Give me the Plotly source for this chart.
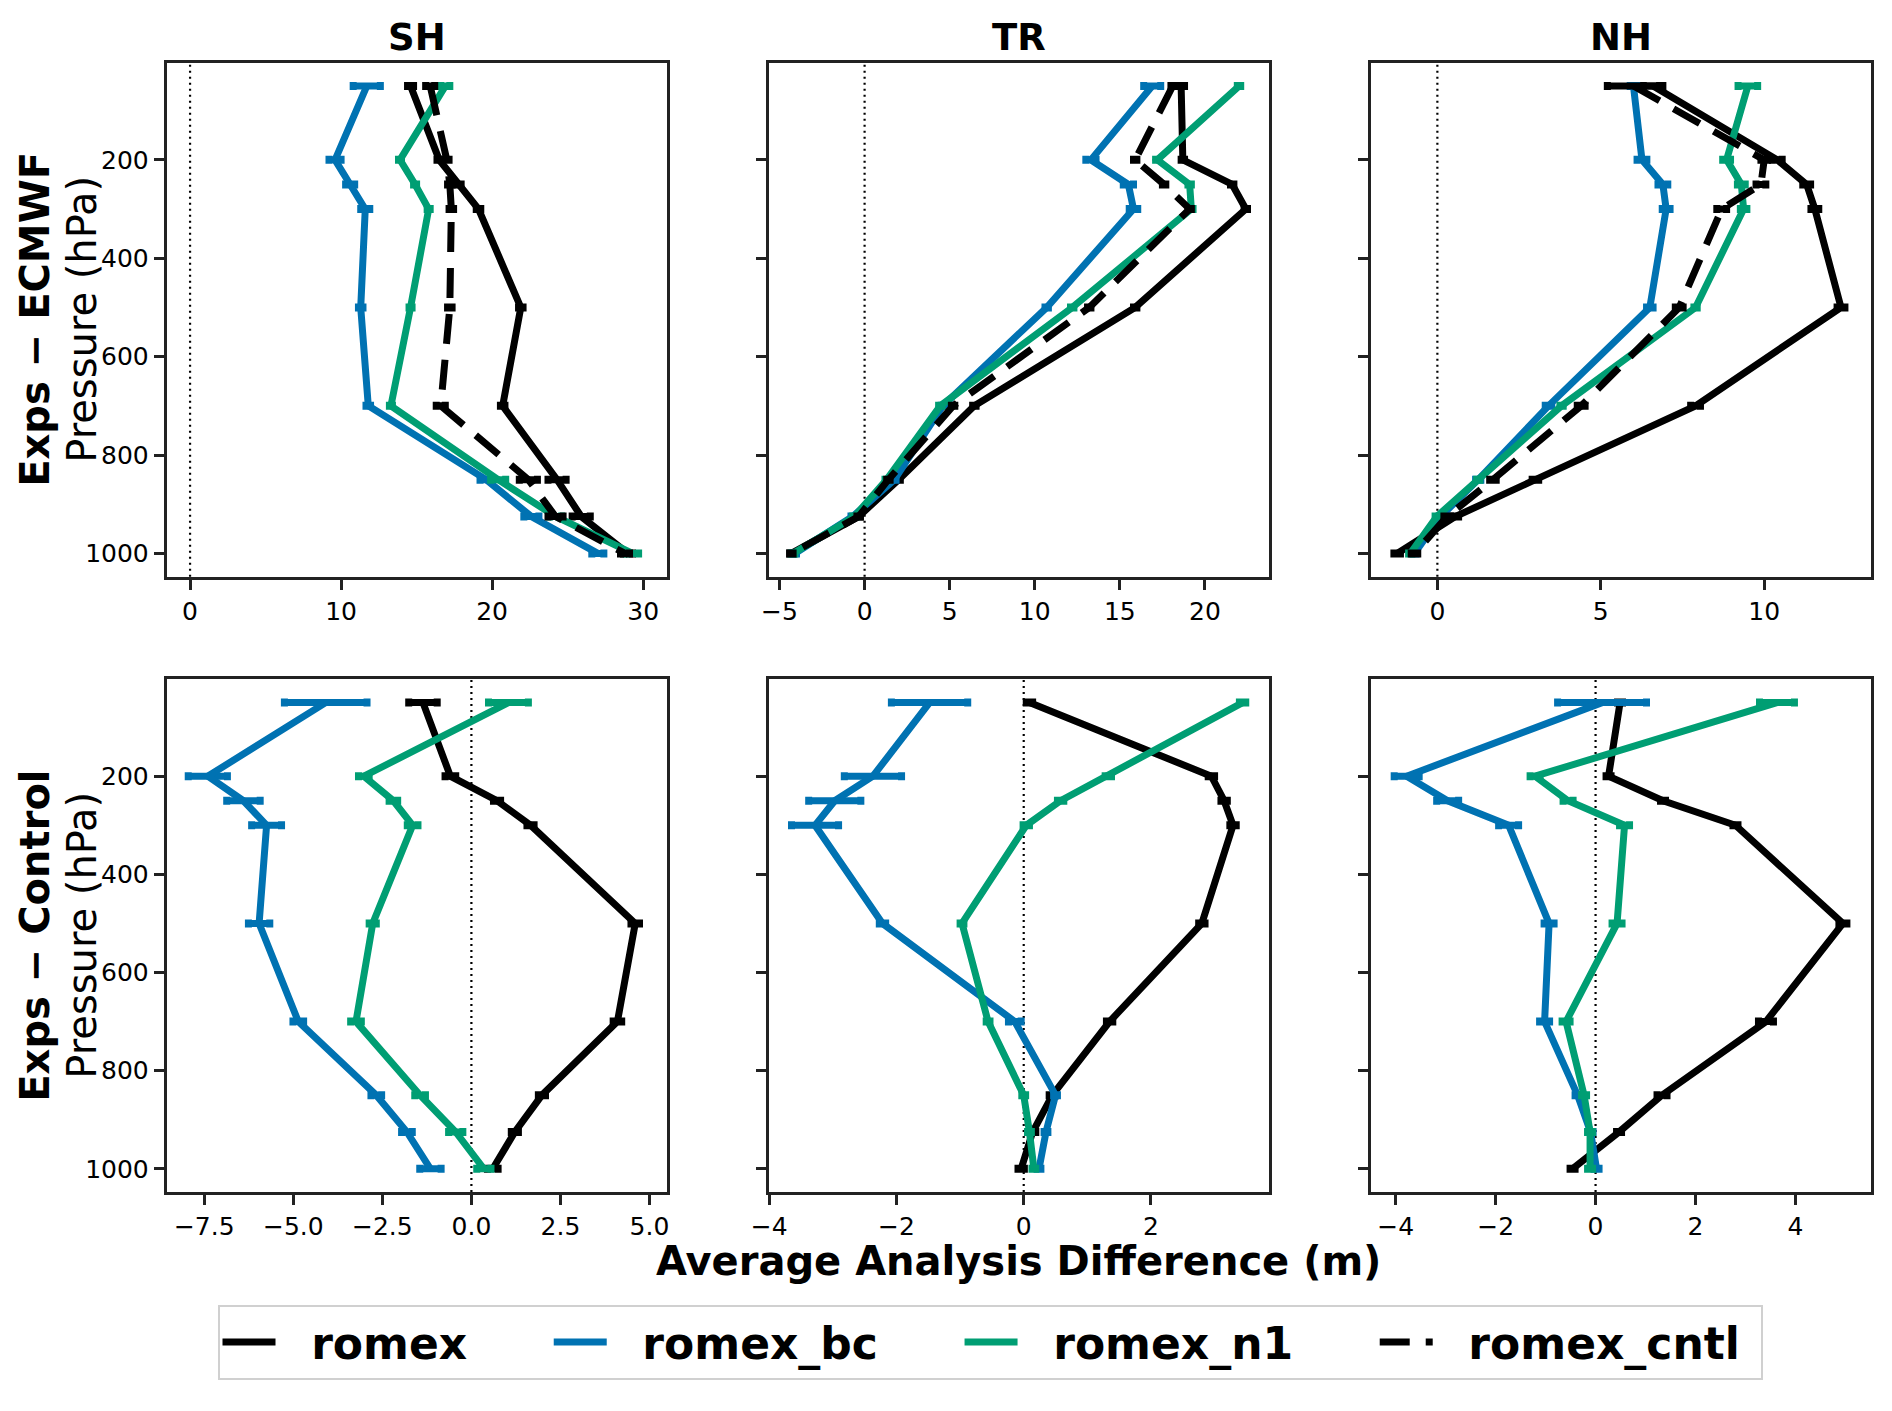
import plotly.graph_objects as go

# pressure levels (hPa) shared by every profile
levels = [50, 200, 250, 300, 500, 700, 850, 925, 1000]
regions = ["SH", "TR", "NH"]
row_labels = ["Exps − ECMWF", "Exps − Control"]
series = ["romex", "romex_bc", "romex_n1", "romex_cntl"]

# ---- Exps - ECMWF ----
ecmwf_sh_romex = [14.6, 16.5, 17.8, 19.1, 21.9, 20.7, 24.3, 25.9, 29.0]
ecmwf_sh_romex_err = [0.2, 0.15, 0.15, 0.15, 0.15, 0.15, 0.6, 0.6, 0.3]
ecmwf_sh_bc = [11.7, 9.6, 10.6, 11.6, 11.3, 11.8, 19.6, 22.6, 27.0]
ecmwf_sh_bc_err = [0.9, 0.4, 0.3, 0.3, 0.15, 0.15, 0.4, 0.5, 0.4]
ecmwf_sh_n1 = [16.9, 13.9, 14.9, 15.8, 14.6, 13.3, 20.4, 24.2, 29.3]
ecmwf_sh_n1_err = [0.3, 0.1, 0.1, 0.1, 0.1, 0.1, 0.5, 0.4, 0.4]
ecmwf_sh_cntl = [15.9, 17.0, 17.2, 17.3, 17.2, 16.6, 22.4, 24.2, 28.8]
ecmwf_sh_cntl_err = [0.3, 0.15, 0.15, 0.15, 0.15, 0.3, 0.6, 0.5, 0.3]

ecmwf_tr_romex = [18.6, 18.7, 21.6, 22.4, 15.9, 6.45, 2.0, -0.35, -4.3]
ecmwf_tr_romex_err = [0.2, 0.1, 0.1, 0.1, 0.1, 0.1, 0.1, 0.1, 0.1]
ecmwf_tr_bc = [16.9, 13.3, 15.5, 15.8, 10.7, 4.6, 1.75, -0.7, -4.1]
ecmwf_tr_bc_err = [0.5, 0.3, 0.3, 0.25, 0.1, 0.1, 0.1, 0.1, 0.1]
ecmwf_tr_n1 = [22.0, 17.2, 19.1, 19.2, 12.2, 4.45, 1.3, -0.6, -4.2]
ecmwf_tr_n1_err = [0.1, 0.1, 0.1, 0.1, 0.1, 0.1, 0.1, 0.1, 0.1]
ecmwf_tr_cntl = [18.1, 15.9, 17.6, 19.1, 13.2, 5.2, 1.4, -0.35, -4.3]
ecmwf_tr_cntl_err = [0.1, 0.1, 0.1, 0.1, 0.1, 0.1, 0.1, 0.1, 0.1]

ecmwf_nh_romex = [6.6, 10.4, 11.3, 11.55, 12.35, 7.9, 3.0, 0.55, -1.23]
ecmwf_nh_romex_err = [0.3, 0.15, 0.12, 0.12, 0.12, 0.15, 0.1, 0.1, 0.1]
ecmwf_nh_bc = [6.0, 6.26, 6.9, 7.0, 6.5, 3.4, 1.25, 0.1, -0.7]
ecmwf_nh_bc_err = [0.1, 0.15, 0.15, 0.12, 0.1, 0.1, 0.08, 0.05, 0.05]
ecmwf_nh_n1 = [9.5, 8.85, 9.3, 9.37, 7.9, 3.8, 1.25, -0.02, -0.83]
ecmwf_nh_n1_err = [0.3, 0.12, 0.12, 0.1, 0.05, 0.05, 0.05, 0.05, 0.05]
ecmwf_nh_cntl = [6.0, 10.0, 9.9, 8.7, 7.4, 4.4, 1.7, 0.3, -0.7]
ecmwf_nh_cntl_err = [0.8, 0.1, 0.15, 0.15, 0.12, 0.12, 0.1, 0.1, 0.1]

# ---- Exps - Control (no cntl profile) ----
cntl_sh_romex = [-1.36, -0.59, 0.72, 1.66, 4.6, 4.1, 1.98, 1.22, 0.6]
cntl_sh_romex_err = [0.4, 0.15, 0.1, 0.1, 0.12, 0.12, 0.1, 0.1, 0.15]
cntl_sh_bc = [-4.09, -7.4, -6.4, -5.75, -5.96, -4.86, -2.67, -1.81, -1.15]
cntl_sh_bc_err = [1.16, 0.55, 0.47, 0.42, 0.3, 0.15, 0.15, 0.15, 0.3]
cntl_sh_n1 = [1.04, -3.02, -2.19, -1.65, -2.77, -3.24, -1.44, -0.44, 0.35]
cntl_sh_n1_err = [0.56, 0.15, 0.12, 0.15, 0.1, 0.15, 0.15, 0.2, 0.2]

cntl_tr_romex = [0.09, 2.95, 3.15, 3.29, 2.8, 1.35, 0.45, 0.14, -0.04]
cntl_tr_romex_err = [0.05, 0.05, 0.05, 0.05, 0.05, 0.05, 0.05, 0.05, 0.05]
cntl_tr_bc = [-1.48, -2.37, -2.97, -3.28, -2.22, -0.14, 0.5, 0.35, 0.24]
cntl_tr_bc_err = [0.6, 0.45, 0.41, 0.37, 0.05, 0.1, 0.03, 0.03, 0.03]
cntl_tr_n1 = [3.44, 1.33, 0.58, 0.04, -0.97, -0.56, 0.0, 0.09, 0.16]
cntl_tr_n1_err = [0.05, 0.05, 0.05, 0.05, 0.03, 0.03, 0.03, 0.03, 0.03]

cntl_nh_romex = [0.49, 0.26, 1.35, 2.8, 4.95, 3.41, 1.33, 0.47, -0.46]
cntl_nh_romex_err = [0.05, 0.05, 0.05, 0.05, 0.08, 0.15, 0.1, 0.05, 0.05]
cntl_nh_bc = [0.13, -3.78, -2.96, -1.74, -0.93, -1.02, -0.36, -0.1, 0.02]
cntl_nh_bc_err = [0.89, 0.25, 0.22, 0.2, 0.1, 0.1, 0.05, 0.05, 0.05]
cntl_nh_n1 = [3.63, -1.21, -0.55, 0.58, 0.43, -0.59, -0.23, -0.11, -0.11]
cntl_nh_n1_err = [0.35, 0.1, 0.1, 0.1, 0.1, 0.08, 0.05, 0.05, 0.05]

panels = [
    [(ecmwf_sh_romex, ecmwf_sh_romex_err), (ecmwf_sh_bc, ecmwf_sh_bc_err),
     (ecmwf_sh_n1, ecmwf_sh_n1_err), (ecmwf_sh_cntl, ecmwf_sh_cntl_err)],
    [(ecmwf_tr_romex, ecmwf_tr_romex_err), (ecmwf_tr_bc, ecmwf_tr_bc_err),
     (ecmwf_tr_n1, ecmwf_tr_n1_err), (ecmwf_tr_cntl, ecmwf_tr_cntl_err)],
    [(ecmwf_nh_romex, ecmwf_nh_romex_err), (ecmwf_nh_bc, ecmwf_nh_bc_err),
     (ecmwf_nh_n1, ecmwf_nh_n1_err), (ecmwf_nh_cntl, ecmwf_nh_cntl_err)],
    [(cntl_sh_romex, cntl_sh_romex_err), (cntl_sh_bc, cntl_sh_bc_err),
     (cntl_sh_n1, cntl_sh_n1_err), None],
    [(cntl_tr_romex, cntl_tr_romex_err), (cntl_tr_bc, cntl_tr_bc_err),
     (cntl_tr_n1, cntl_tr_n1_err), None],
    [(cntl_nh_romex, cntl_nh_romex_err), (cntl_nh_bc, cntl_nh_bc_err),
     (cntl_nh_n1, cntl_nh_n1_err), None],
]

# axis limits as drawn in the original (matplotlib autoscale)
x_ranges = [(-1.56, 31.6), (-5.64, 23.78), (-2.04, 13.28),
            (-8.56, 5.5), (-4.01, 3.86), (-4.5, 5.52)]
x_ticks = [[0, 10, 20, 30], [-5, 0, 5, 10, 15, 20], [0, 5, 10],
           [-7.5, -5, -2.5, 0, 2.5, 5], [-4, -2, 0, 2], [-4, -2, 0, 2, 4]]
x_fmt = ["", "", "", ".1f", "", ""]

colors = {"romex": "black", "romex_bc": "#0072B2", "romex_n1": "#009E73", "romex_cntl": "black"}
dashes = {"romex": "solid", "romex_bc": "solid", "romex_n1": "solid", "romex_cntl": "30px,16px"}

W, H = 1892, 1411
OFF = 8  # page body margin of the browser
def px(x):
    return (x - OFF) / W
def py(y):
    return 1 - (y - OFF) / H

col_px = [(166.5, 667.3), (768.6, 1269.3), (1370.7, 1871.4)]
row_px = [(62.7, 576.8), (679.3, 1192.1)]

fig = go.Figure()
layout = {}
FONT = "DejaVu Sans"
NB = "\u00a0"

for k, panel in enumerate(panels):
    r, c = divmod(k, 3)
    xa = "x" if k == 0 else f"x{k+1}"
    ya = "y" if k == 0 else f"y{k+1}"
    for name, item in zip(series, panel):
        if item is None:
            continue
        vals, errs = item
        label = NB * 2 + name + (NB * 5 if name != "romex_cntl" else NB)
        fig.add_trace(go.Scatter(
            x=vals, y=levels, mode="lines", name=label,
            legendgroup=name, showlegend=(k == 0), xaxis=xa, yaxis=ya,
            line=dict(color=colors[name], width=7, dash=dashes[name]),
            error_x=dict(type="data", array=errs, color=colors[name],
                         thickness=7, width=4),
        ))
    axcommon = dict(showline=True, mirror=True, linecolor="#222", linewidth=2.5,
                    ticks="outside", ticklen=10, tickwidth=2.5, tickcolor="#222",
                    showgrid=False, zeroline=False, automargin=False,
                    tickfont=dict(family=FONT, size=25, color="black"))
    layout["xaxis" if k == 0 else f"xaxis{k+1}"] = dict(
        axcommon, domain=[px(col_px[c][0]), px(col_px[c][1])],
        anchor=ya, range=list(x_ranges[k]), tickmode="array",
        tickvals=x_ticks[k], tickformat=x_fmt[k])
    layout["yaxis" if k == 0 else f"yaxis{k+1}"] = dict(
        axcommon, domain=[py(row_px[r][1]), py(row_px[r][0])],
        anchor=xa, range=[1047.5, 2.5], tickmode="array",
        tickvals=[200, 400, 600, 800, 1000], showticklabels=(c == 0))
    fig.add_shape(type="line", xref=xa, yref=f"{ya} domain", x0=0, x1=0, y0=0, y1=1,
                  line=dict(color="black", width=2.2, dash="2px,4px"), layer="below")

annotations = []
for c, reg in enumerate(regions):
    annotations.append(dict(text=f"<b>{reg}</b>", x=px((col_px[c][0] + col_px[c][1]) / 2),
                            y=py(37), xref="paper", yref="paper", showarrow=False,
                            font=dict(family=FONT, size=37, color="black"),
                            xanchor="center", yanchor="middle"))
for r, lab in enumerate(row_labels):
    yc = py((row_px[r][0] + row_px[r][1]) / 2)
    annotations.append(dict(text=f"<b>{lab}</b>", x=px(35), y=yc, xref="paper", yref="paper",
                            showarrow=False, textangle=-90,
                            font=dict(family=FONT, size=40, color="black"),
                            xanchor="center", yanchor="middle"))
    annotations.append(dict(text="Pressure (hPa)", x=px(82), y=yc, xref="paper", yref="paper",
                            showarrow=False, textangle=-90,
                            font=dict(family=FONT, size=40, color="black"),
                            xanchor="center", yanchor="middle"))
annotations.append(dict(text="<b>Average Analysis Difference (m)</b>", x=px(1018), y=py(1261),
                        xref="paper", yref="paper", showarrow=False,
                        font=dict(family=FONT, size=40, color="black"),
                        xanchor="center", yanchor="middle"))

fig.update_layout(
    width=W, height=H, margin=dict(l=0, r=0, t=0, b=0, autoexpand=False),
    paper_bgcolor="white", plot_bgcolor="white",
    annotations=annotations,
    legend=dict(orientation="h", x=px(990), y=py(1305), xanchor="center", yanchor="top",
                font=dict(family=FONT, size=44, color="black", weight="bold"),
                bordercolor="#d0d0d0", borderwidth=2, bgcolor="white", itemwidth=53),
    **layout,
)
fig.write_html("out.html")
